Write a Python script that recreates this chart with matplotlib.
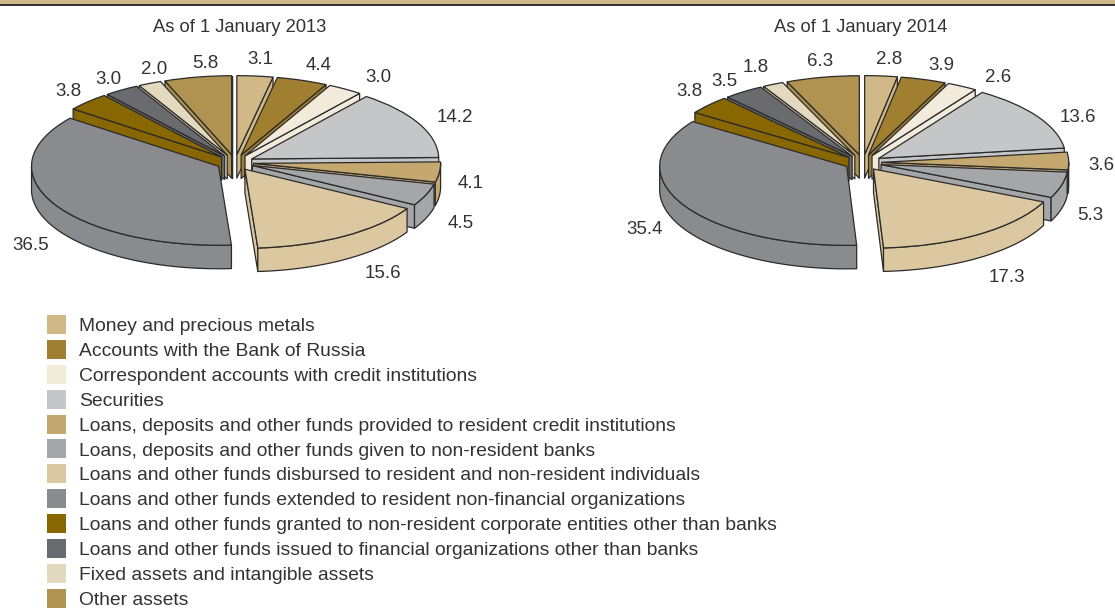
import numpy as np
import matplotlib
matplotlib.use("Agg")
import matplotlib.pyplot as plt
from matplotlib.patches import Patch, Polygon, Rectangle

plt.rcParams['font.family'] = ['Liberation Sans', 'DejaVu Sans']

W, H = 1115, 608

categories = [
    "Money and precious metals",
    "Accounts with the Bank of Russia",
    "Correspondent accounts with credit institutions",
    "Securities",
    "Loans, deposits and other funds provided to resident credit institutions",
    "Loans, deposits and other funds given to non-resident banks",
    "Loans and other funds disbursed to resident and non-resident individuals",
    "Loans and other funds extended to resident non-financial organizations",
    "Loans and other funds granted to non-resident corporate entities other than banks",
    "Loans and other funds issued to financial organizations other than banks",
    "Fixed assets and intangible assets",
    "Other assets",
]
values_2013 = [3.1, 4.4, 3.0, 14.2, 4.1, 4.5, 15.6, 36.5, 3.8, 3.0, 2.0, 5.8]
values_2014 = [2.8, 3.9, 2.6, 13.6, 3.6, 5.3, 17.3, 35.4, 3.8, 3.5, 1.8, 6.3]
colors = ["#D1B887", "#A08030", "#F2EBDC", "#C5C6C8", "#C4A870", "#A5A6A9",
          "#DCC8A0", "#8A8B8E", "#886600", "#6A6B6E", "#E3D9BE", "#B09350"]

# label centres in pixels, measured from the top left corner
labels_xy_2013 = [(260, 58), (319, 65), (378, 76), (455, 116), (471, 182), (461, 222),
                  (383, 273), (31, 245), (68, 90), (108, 78), (154, 68), (205, 62)]
labels_xy_2014 = [(889, 58), (941, 64), (998, 77), (1078, 116), (1101, 165), (1090, 215),
                  (1007, 276), (645, 229), (689, 90), (724, 80), (756, 66), (820, 61)]

RX, RY = 187, 79
DEPTH = 23.5 / RY
EXPLODE = 0.1
EDGE = "#2B2B2B"
TEXT = "#333333"
LW = 0.9


def fx(x):
    return x / W


def fy(y):
    return 1 - y / H


def draw_pie(fig, values, cx, cy):
    left, right, bottom, top = -1.4, 1.4, -1.6, 1.3
    ax = fig.add_axes([fx(cx + left * RX), fy(cy - bottom * RY),
                       (right - left) * RX / W, (top - bottom) * RY / H])
    wedges, _ = ax.pie(values, colors=colors, startangle=90, counterclock=False,
                       explode=[EXPLODE] * len(values), radius=1,
                       wedgeprops=dict(edgecolor=EDGE, linewidth=LW))
    ax.set_aspect('auto')
    ax.set_xlim(left, right)
    ax.set_ylim(bottom, top)
    ax.axis('off')

    # back slices first so the front ones cover them
    mids = [np.radians((w.theta1 + w.theta2) / 2) for w in wedges]
    order = np.argsort([-np.sin(m) for m in mids])
    for rank, i in enumerate(order):
        w = wedges[i]
        z = 3 + rank * 3
        x0, y0 = w.center
        for ang, normal in ((w.theta1, w.theta1 - 90), (w.theta2, w.theta2 + 90)):
            if np.sin(np.radians(normal)) < 0:
                a = np.radians(ang)
                xe, ye = x0 + np.cos(a), y0 + np.sin(a)
                pts = [(x0, y0), (xe, ye), (xe, ye - DEPTH), (x0, y0 - DEPTH)]
                ax.add_patch(Polygon(pts, closed=True, facecolor=colors[i], edgecolor=EDGE,
                                     linewidth=LW, zorder=z, joinstyle='round'))
        t = np.radians(np.linspace(w.theta1, w.theta2, 300))
        t = t[np.sin(t) < 0]
        if len(t) > 1:
            xs = x0 + np.cos(t)
            ys = y0 + np.sin(t)
            pts = np.vstack([np.column_stack([xs, ys]),
                             np.column_stack([xs[::-1], ys[::-1] - DEPTH])])
            ax.add_patch(Polygon(pts, closed=True, facecolor=colors[i], edgecolor=EDGE,
                                 linewidth=LW, zorder=z + 1, joinstyle='round'))
        w.set_zorder(z + 2)
    return ax


fig = plt.figure(figsize=(W / 100, H / 100), dpi=100)

# band along the top edge
fig.add_artist(Rectangle((0, fy(4)), 1, 4 / H, transform=fig.transFigure,
                         facecolor="#D1B887", edgecolor='none'))
fig.add_artist(Rectangle((0, fy(6)), 1, 2 / H, transform=fig.transFigure,
                         facecolor="#333333", edgecolor='none'))

draw_pie(fig, values_2013, 235, 162.5)
draw_pie(fig, values_2014, 863, 162.5)

fig.text(fx(239.5), fy(28), "As of 1 January 2013", ha='center', va='center',
         fontsize=13.2, color=TEXT)
fig.text(fx(860.5), fy(28), "As of 1 January 2014", ha='center', va='center',
         fontsize=13.2, color=TEXT)

for vals, xy in ((values_2013, labels_xy_2013), (values_2014, labels_xy_2014)):
    for v, (x, y) in zip(vals, xy):
        fig.text(fx(x), fy(y + 1), f"{v:.1f}", ha='center', va='center',
                 fontsize=13.5, color=TEXT)

handles = [Patch(facecolor=c, edgecolor='none') for c in colors]
fig.legend(handles, categories, loc='upper left', bbox_to_anchor=(fx(47), fy(315)),
           bbox_transform=fig.transFigure, frameon=False, fontsize=13.9, labelcolor=TEXT,
           handlelength=0.98, handleheight=1.14, handletextpad=0.68, labelspacing=0.25,
           borderpad=0, borderaxespad=0)

fig.savefig("out.png", dpi=100)
